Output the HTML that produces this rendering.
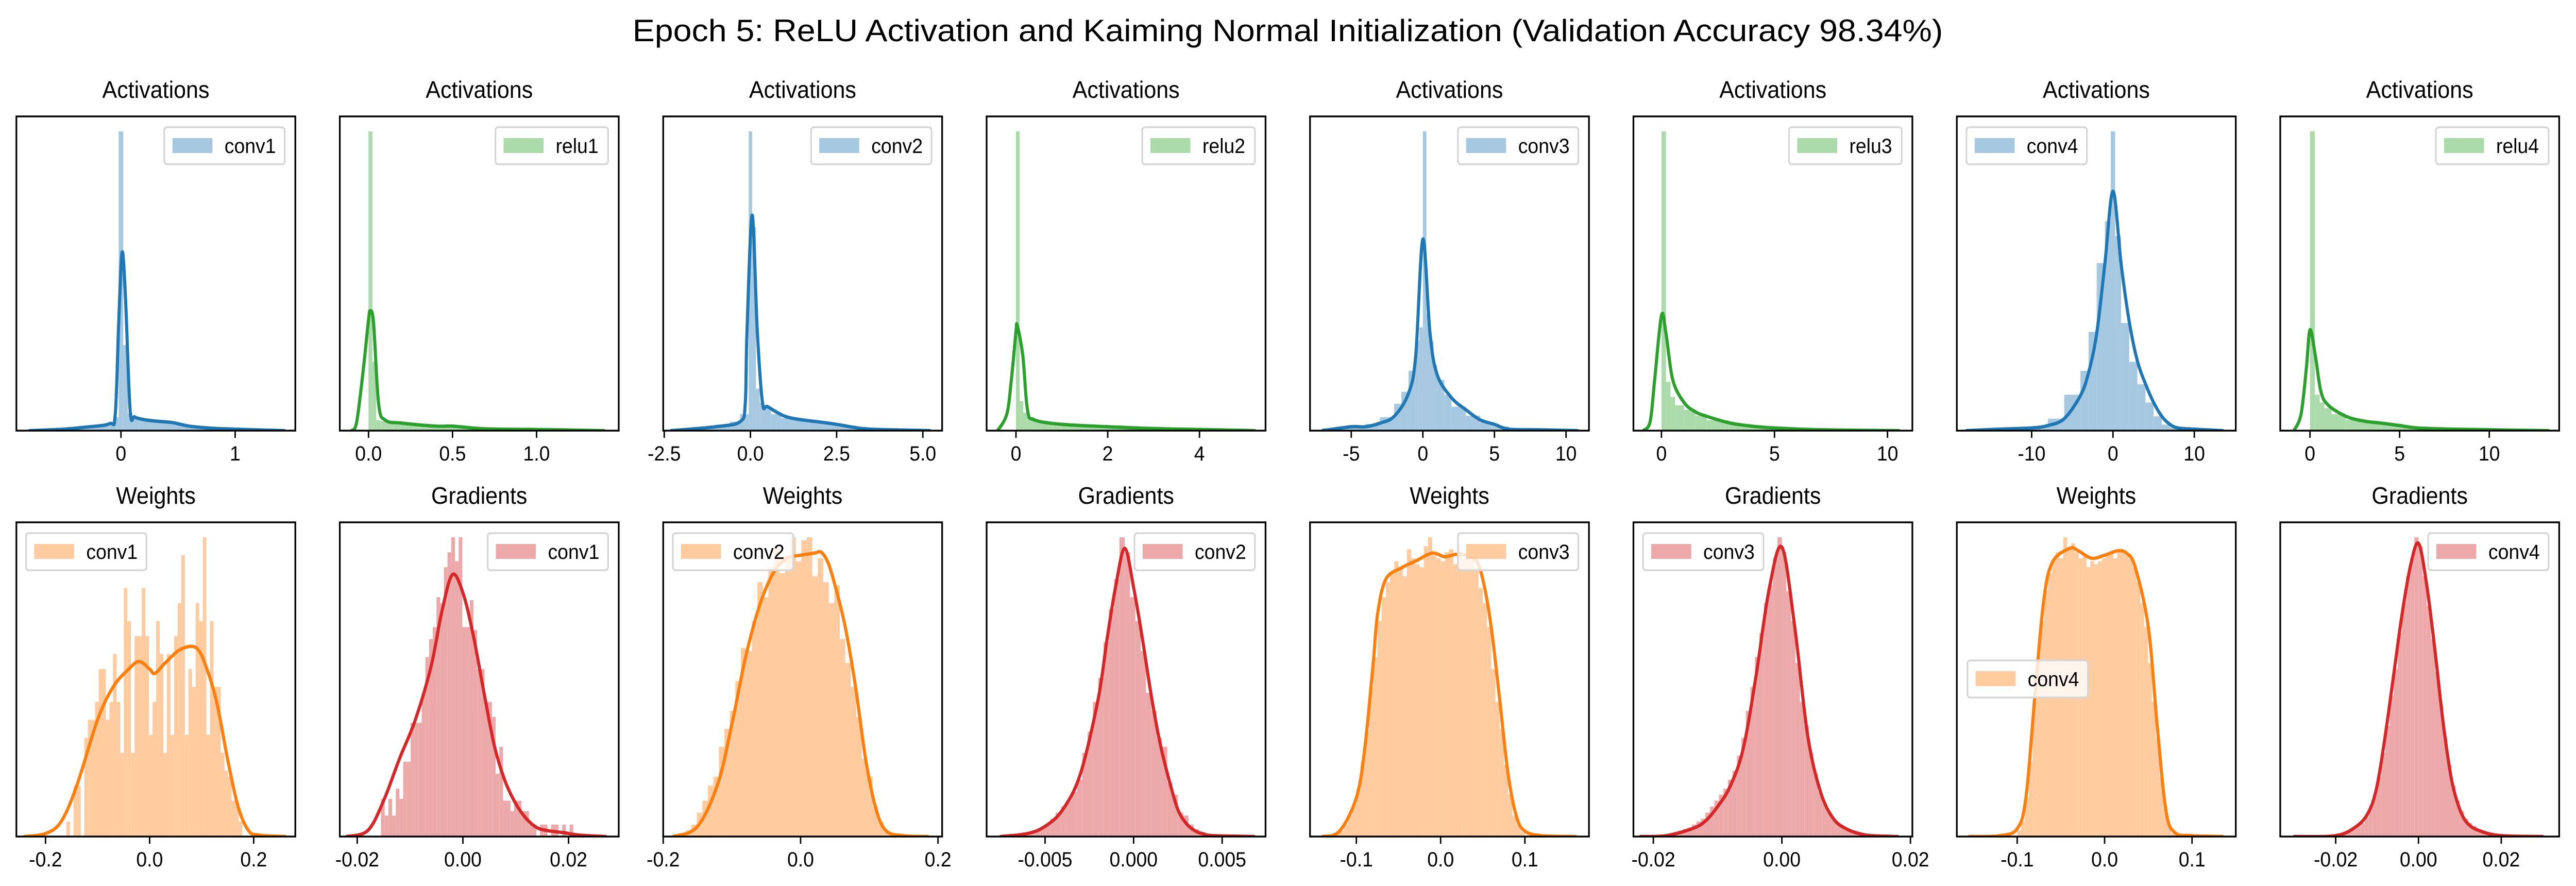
<!DOCTYPE html>
<html><head><meta charset="utf-8"><style>
html,body{margin:0;padding:0;background:#fff;width:100%;height:100%;overflow:hidden;}
svg{display:block;position:absolute;left:0;top:0;width:100%;height:100%;font-family:"Liberation Sans",sans-serif;}
</style></head><body>
<svg id="fig" viewBox="0 0 5347 1720" preserveAspectRatio="none" xmlns="http://www.w3.org/2000/svg">
<rect width="5347" height="1720" fill="#fff"/>
<text x="2673" y="80" font-size="60" text-anchor="middle" textLength="2720" lengthAdjust="spacingAndGlyphs">Epoch 5: ReLU Activation and Kaiming Normal Initialization (Validation Accuracy 98.34%)</text>
</svg>
<script>
// ---- data per panel (top row: activations, bottom row: weights / gradients) ----
const titles=["Activations","Activations","Activations","Activations","Activations","Activations","Activations","Activations","Weights","Gradients","Weights","Gradients","Weights","Gradients","Weights","Gradients"];
const labels=["conv1","relu1","conv2","relu2","conv3","relu3","conv4","relu4","conv1","conv1","conv2","conv2","conv3","conv3","conv4","conv4"];
const kinds=["b","g","b","g","b","g","b","g","o","r","o","r","o","r","o","r"];
const legendPos=["r","r","r","r","r","r","l","r","l","r","l","r","r","l","m","r"];
const xlims=[[-0.916,1.527],[-0.171,1.489],[-2.53,5.56],[-0.64,5.44],[-7.88,11.6],[-1.24,11.1],[-19.2,15.1],[-1.66,13.9],
 [-0.256,0.28],[-0.0233,0.0295],[-0.2,0.206],[-0.0083,0.00745],[-0.155,0.176],[-0.0231,0.0203],[-0.169,0.15],[-0.0334,0.034]];
const ticks=[[0,1],[0,0.5,1],[-2.5,0,2.5,5],[0,2,4],[-5,0,5,10],[0,5,10],[-10,0,10],[0,5,10],
 [-0.2,0,0.2],[-0.02,0,0.02],[-0.2,0,0.2],[-0.005,0,0.005],[-0.1,0,0.1],[-0.02,0,0.02],[-0.1,0,0.1],[-0.02,0,0.02]];
const tickLabels=[["0","1"],["0.0","0.5","1.0"],["-2.5","0.0","2.5","5.0"],["0","2","4"],["-5","0","5","10"],["0","5","10"],["-10","0","10"],["0","5","10"],
 ["-0.2","0.0","0.2"],["-0.02","0.00","0.02"],["-0.2","0.0","0.2"],["-0.005","0.000","0.005"],["-0.1","0.0","0.1"],["-0.02","0.00","0.02"],["-0.1","0.0","0.1"],["-0.02","0.00","0.02"]];
const histEdges=[
 [-0.8,-0.5,-0.3,-0.1,-0.06,-0.02,0.02,0.06,0.1,0.16,0.25,0.35,0.45,0.55,0.65,0.8,1.0,1.2,1.43],
 [0,0.023,0.046,0.07,0.1,0.15,0.2,0.3,0.4,0.5,0.6,0.7,0.85,1.0,1.2,1.4],
 [-2.2,-1.5,-1,-0.6,-0.3,-0.05,0.05,0.16,0.27,0.38,0.6,0.9,1.3,1.7,2.1,2.6,3.1,3.6,4.2,5.2],
 [0,0.08,0.16,0.24,0.4,0.7,1.0,1.5,2.0,2.5,3.0,4.0,5.2],
 [-7,-5,-4,-3,-2,-1.5,-1,-0.5,-0.25,0,0.25,0.5,0.75,1,1.5,2,3,4,5,6,8,10.8],
 [0,0.2,0.4,0.6,1,1.5,2,3,4,5,6,8,10.5],
 [-18,-12,-8,-6,-4,-3,-2,-1,-0.27,0.27,1,2,3,4,5,6,7,8,10,13.5],
 [0,0.27,0.54,0.8,1.2,2,3,4,5,6,8,13.3]
];
const histStart=[null,null,null,null,null,null,null,null,-0.16,-0.0155,-0.175,-0.0062,-0.125,-0.0175,-0.1,-0.025];
const histWidth=[null,null,null,null,null,null,null,null,0.0069,0.0007,0.008,0.0003,0.005,0.0007,0.0044,0.001];
const histHeights=[
 [0.004,0.008,0.015,0.025,0.045,1.0,0.286,0.058,0.045,0.038,0.032,0.028,0.025,0.018,0.012,0.008,0.004,0.002],
 [1.0,0.23,0.035,0.032,0.028,0.025,0.02,0.016,0.015,0.012,0.008,0.006,0.004,0.003,0.002],
 [0.005,0.012,0.02,0.03,0.055,1.0,0.68,0.14,0.094,0.075,0.055,0.042,0.035,0.03,0.024,0.014,0.007,0.003,0.001],
 [1.0,0.098,0.06,0.045,0.033,0.026,0.021,0.016,0.012,0.008,0.005,0.002],
 [0.008,0.014,0.022,0.045,0.09,0.13,0.2,0.3,0.345,1.0,0.39,0.3,0.22,0.17,0.12,0.08,0.05,0.028,0.014,0.005,0.001],
 [1.0,0.163,0.113,0.085,0.07,0.05,0.035,0.02,0.012,0.007,0.003,0.001],
 [0.006,0.012,0.04,0.12,0.2,0.33,0.56,0.7,1.0,0.65,0.36,0.23,0.155,0.094,0.048,0.02,0.01,0.005,0.001],
 [1.0,0.12,0.094,0.075,0.055,0.036,0.028,0.02,0.012,0.005,0.001],
 [0.05,0,0.17,0.17,0,0.33,0.39,0.39,0.45,0.56,0.56,0.39,0.45,0.61,0.45,0.28,0.83,0.72,0.28,0.67,0.67,0.83,0.67,0.34,0.45,0.72,0.61,0.28,0.61,0.34,0.67,0.78,0.94,0.34,0.56,0.5,0.78,0.72,1.0,0.34,0.72,0.5,0.5,0.28,0.22,0.2,0.12,0.12,0.05],
 [0.126,0.07,0.126,0.07,0.16,0.126,0.25,0.25,0.38,0.38,0.38,0.48,0.6,0.66,0.7,0.8,0.78,0.9,0.95,1.0,0.92,1.0,0.7,0.7,0.79,0.69,0.56,0.56,0.45,0.45,0.4,0.21,0.3,0.12,0.12,0.085,0.12,0.12,0.085,0.085,0.04,0.04,0,0.04,0.04,0,0.04,0.04,0,0.04,0,0.04],
 [0.01,0.02,0.04,0.08,0.12,0.17,0.2,0.3,0.36,0.42,0.52,0.63,0.62,0.72,0.85,0.8,0.9,0.97,0.88,0.94,1.0,0.92,0.99,1.0,0.87,0.93,0.85,0.78,0.84,0.66,0.58,0.5,0.4,0.26,0.2,0.1,0.05,0.02],
 [0.01,0.015,0.02,0.03,0.04,0.06,0.08,0.1,0.12,0.15,0.19,0.28,0.35,0.45,0.53,0.65,0.76,0.86,1.0,0.95,0.8,0.72,0.62,0.48,0.42,0.33,0.3,0.18,0.14,0.08,0.07,0.04,0.025,0.015,0.01,0.006,0.003,0.002],
 [0.01,0.02,0.04,0.07,0.11,0.16,0.25,0.35,0.5,0.6,0.72,0.8,0.85,0.88,0.92,0.9,0.87,0.96,0.93,0.91,0.9,0.97,1.0,0.94,0.93,0.92,0.95,0.96,0.91,0.98,0.93,0.95,0.96,0.9,0.83,0.78,0.7,0.56,0.45,0.36,0.24,0.14,0.07,0.04,0.015,0.005,0.002],
 [0.01,0.015,0.02,0.025,0.03,0.04,0.05,0.06,0.08,0.1,0.12,0.14,0.16,0.19,0.22,0.27,0.33,0.42,0.5,0.6,0.68,0.78,0.84,0.93,1.0,0.95,0.82,0.72,0.58,0.45,0.37,0.28,0.21,0.15,0.11,0.08,0.06,0.045,0.035,0.025,0.02,0.012,0.008,0.005,0.003,0.002],
 [0.02,0.05,0.13,0.25,0.45,0.6,0.72,0.82,0.88,0.92,0.95,0.93,1.0,0.96,0.98,0.95,0.93,0.94,0.9,0.92,0.91,0.92,0.93,0.94,0.95,0.93,0.96,0.95,0.94,0.93,0.9,0.85,0.78,0.7,0.58,0.45,0.33,0.2,0.1,0.04,0.01],
 [0.003,0.004,0.005,0.006,0.008,0.01,0.012,0.015,0.018,0.025,0.035,0.045,0.065,0.1,0.14,0.2,0.28,0.37,0.47,0.56,0.68,0.78,0.87,0.93,1.0,0.97,0.87,0.77,0.66,0.55,0.44,0.33,0.24,0.17,0.12,0.085,0.06,0.045,0.035,0.025,0.02,0.015,0.012,0.01,0.008,0.006,0.005,0.004,0.003,0.002]
];
const kdeX=[
 [-0.8,-0.5,-0.3,-0.1,-0.05,-0.02,0.01,0.04,0.08,0.12,0.2,0.3,0.45,0.6,0.8,1.0,1.43],
 [-0.1,-0.07,-0.03,0,0.01,0.03,0.06,0.1,0.2,0.4,0.5,0.7,1.0,1.4],
 [-2.3,-1,-0.3,-0.15,-0.1,0.05,0.2,0.35,0.5,1.0,1.5,2.0,2.5,3.0,3.5,5.2],
 [-0.4,-0.2,-0.1,0,0.03,0.15,0.25,0.4,1,2,3,4,5.2],
 [-7,-5,-4,-3,-2,-1,-0.5,0,0.5,1,2,3,4,5,6,8,10.8],
 [-0.8,-0.5,-0.3,0,0.2,0.5,1,1.5,2,3,4,5,7,10.5],
 [-18,-14,-10,-8,-6,-4,-3,-2,-1,0,1,2,3,4,5,6,7,8,10,13.5],
 [-0.9,-0.5,-0.2,0,0.3,0.6,1,2,3,4,5,6,8,13.3],
 [-0.24,-0.2,-0.17,-0.14,-0.1,-0.07,-0.04,-0.02,0,0.01,0.03,0.06,0.09,0.11,0.13,0.15,0.17,0.19,0.21,0.26],
 [-0.022,-0.018,-0.015,-0.012,-0.009,-0.006,-0.004,-0.002,0,0.002,0.004,0.006,0.008,0.01,0.012,0.014,0.016,0.019,0.022,0.027],
 [-0.185,-0.15,-0.12,-0.1,-0.08,-0.06,-0.04,-0.02,0,0.02,0.03,0.04,0.05,0.065,0.08,0.095,0.11,0.125,0.15,0.185],
 [-0.0075,-0.006,-0.005,-0.004,-0.003,-0.002,-0.0015,-0.001,-0.0005,0,0.0005,0.001,0.0015,0.002,0.0025,0.003,0.0035,0.004,0.0045,0.0068],
 [-0.14,-0.12,-0.1,-0.09,-0.08,-0.075,-0.065,-0.045,-0.03,-0.01,0.005,0.02,0.04,0.05,0.06,0.07,0.08,0.09,0.1,0.12,0.16],
 [-0.022,-0.018,-0.014,-0.012,-0.01,-0.008,-0.006,-0.004,-0.002,0,0.002,0.004,0.006,0.008,0.01,0.012,0.014,0.018],
 [-0.155,-0.12,-0.1,-0.09,-0.08,-0.07,-0.06,-0.04,-0.03,-0.015,0,0.015,0.025,0.035,0.05,0.06,0.07,0.08,0.1,0.135],
 [-0.03,-0.02,-0.015,-0.012,-0.01,-0.008,-0.006,-0.004,-0.002,0,0.002,0.004,0.006,0.008,0.01,0.012,0.015,0.02,0.03]
];
const kdeY=[
 [0,0.005,0.012,0.023,0.054,0.36,0.596,0.44,0.069,0.046,0.037,0.032,0.027,0.015,0.008,0.005,0],
 [0,0.03,0.21,0.37,0.4,0.36,0.09,0.035,0.025,0.015,0.015,0.006,0.004,0],
 [0,0.013,0.03,0.09,0.33,0.72,0.33,0.094,0.08,0.048,0.036,0.029,0.021,0.011,0.005,0],
 [0,0.055,0.17,0.33,0.35,0.25,0.07,0.036,0.021,0.013,0.007,0.004,0],
 [0,0.013,0.013,0.025,0.048,0.125,0.25,0.64,0.325,0.187,0.11,0.07,0.036,0.021,0.005,0.003,0],
 [0,0.03,0.17,0.385,0.325,0.17,0.094,0.063,0.048,0.026,0.015,0.009,0.003,0],
 [0,0.005,0.009,0.017,0.04,0.117,0.194,0.325,0.557,0.8,0.557,0.364,0.233,0.156,0.094,0.048,0.021,0.009,0.005,0],
 [0,0.055,0.21,0.337,0.25,0.133,0.086,0.048,0.032,0.025,0.017,0.009,0.005,0],
 [0,0.01,0.05,0.17,0.39,0.5,0.56,0.585,0.56,0.545,0.58,0.626,0.63,0.56,0.44,0.257,0.1,0.02,0.005,0],
 [0,0.02,0.12,0.26,0.39,0.57,0.75,0.875,0.815,0.67,0.48,0.3,0.185,0.11,0.06,0.03,0.02,0.013,0.005,0],
 [0,0.034,0.18,0.376,0.6,0.77,0.88,0.93,0.94,0.947,0.95,0.915,0.84,0.7,0.5,0.254,0.09,0.018,0.003,0],
 [0,0.01,0.034,0.09,0.21,0.46,0.66,0.84,0.963,0.833,0.66,0.47,0.31,0.19,0.09,0.042,0.018,0.008,0.003,0],
 [0,0.018,0.13,0.295,0.58,0.74,0.86,0.9,0.92,0.947,0.935,0.943,0.93,0.86,0.7,0.46,0.21,0.067,0.018,0.003,0],
 [0,0.003,0.026,0.05,0.1,0.17,0.295,0.54,0.825,0.967,0.7,0.34,0.15,0.06,0.026,0.01,0.003,0],
 [0,0.003,0.026,0.13,0.46,0.78,0.915,0.963,0.955,0.93,0.94,0.955,0.947,0.9,0.7,0.376,0.09,0.014,0.003,0],
 [0,0.003,0.034,0.083,0.17,0.34,0.54,0.74,0.9,0.98,0.84,0.62,0.376,0.19,0.09,0.042,0.018,0.003,0]
];
const histFill={b:"#a6c8e0",g:"#abdaab",o:"#ffcb9f",r:"#eda9aa"};
const lineCol={b:"#1f77b4",g:"#2ca02c",o:"#ff7f0e",r:"#d62728"};

const NS="http://www.w3.org/2000/svg";
const svg=document.getElementById('fig');
function mk(tag,attrs,parent){const e=document.createElementNS(NS,tag);for(const k in attrs)e.setAttribute(k,attrs[k]);(parent||svg).appendChild(e);return e;}
function smoothPath(P){
  let d='M'+P[0][0].toFixed(1)+','+P[0][1].toFixed(1);
  for(let i=0;i<P.length-1;i++){
    const p0=P[Math.max(0,i-1)],p1=P[i],p2=P[i+1],p3=P[Math.min(P.length-1,i+2)];
    const c1x=p1[0]+(p2[0]-p0[0])/6, c1y=p1[1]+(p2[1]-p0[1])/6;
    const c2x=p2[0]-(p3[0]-p1[0])/6, c2y=p2[1]-(p3[1]-p1[1])/6;
    d+=' C'+c1x.toFixed(1)+','+c1y.toFixed(1)+' '+c2x.toFixed(1)+','+c2y.toFixed(1)+' '+p2[0].toFixed(1)+','+p2[1].toFixed(1);
  }
  return d;
}

const AX_W=579, PITCH=671.3, AX_L0=34;
const rows=[{top:226,bot:836},{top:1014,bot:1624}];
for(let i=0;i<16;i++){
  const r=i<8?0:1, c=i%8;
  const L=AX_L0+c*PITCH, R=L+AX_W, T=rows[r].top, B=rows[r].bot, H=B-T;
  const xl=xlims[i];
  const sx=v=>L+(v-xl[0])/(xl[1]-xl[0])*AX_W;
  const sy=v=>B-v/1.05*H;
  const g=mk('g',{});
  
  
  const cid='clip'+i;
  const cp=mk('clipPath',{id:cid},g);mk('rect',{x:L,y:T,width:AX_W,height:H},cp);
  const plot=mk('g',{'clip-path':'url(#'+cid+')'},g);
  const hg=mk('g',{},plot);
  
  
  const hh=histHeights[i];
  for(let j=0;j<hh.length;j++){
    let x0,x1;
    if(histEdges[i]){x0=histEdges[i][j];x1=histEdges[i][j+1];}
    else{x0=histStart[i]+j*histWidth[i];x1=x0+histWidth[i];}
    if(hh[j]<=0)continue;
    const rc=mk('rect',{x:sx(x0),y:sy(hh[j]),width:Math.max(0.5,sx(x1)-sx(x0)),height:B-sy(hh[j]),fill:histFill[kinds[i]]},hg);
    
    
  }
  const P=kdeX[i].map((x,k)=>[sx(x),sy(kdeY[i][k])]);
  const pl=mk('path',{d:smoothPath(P),fill:'none',stroke:lineCol[kinds[i]],'stroke-width':6.5,'stroke-linejoin':'round','stroke-linecap':'round'},plot);
  
  
  const sp=mk('rect',{x:L,y:T,width:AX_W,height:H,fill:'none',stroke:'#000','stroke-width':3.5},g);
  
  
  ticks[i].forEach((t,k)=>{
    const x=sx(t);
    const tl=mk('line',{x1:x,x2:x,y1:B,y2:B+14,stroke:'#000','stroke-width':3},g);
    
    
    const tx=mk('text',{x:x,y:B+58,'font-size':40,'text-anchor':'middle'},g);
    tx.textContent=tickLabels[i][k];
    
    
  });
  const tt=mk('text',{x:L+AX_W/2,y:T-36,'font-size':46,'text-anchor':'middle'},g);
  tt.textContent=titles[i];
  
  
  const lw=labels[i].startsWith('relu')?234:250, lh=72;
  let lx, ly=T+21;
  if(legendPos[i]==='r')lx=R-22-lw; else if(legendPos[i]==='l')lx=L+20; else {lx=L+22;ly=1282;}
  const lg=mk('g',{},g);
  
  
  mk('rect',{x:lx,y:ly,width:lw,height:lh,rx:6,fill:'#fff','fill-opacity':0.8,stroke:'#d6d6d6','stroke-width':3.5},lg);
  mk('rect',{x:lx+17,y:ly+21,width:83,height:29,fill:histFill[kinds[i]]},lg);
  const lt=mk('text',{x:lx+125,y:ly+50,'font-size':40},lg);
  lt.textContent=labels[i];
}
</script>
</body></html>
